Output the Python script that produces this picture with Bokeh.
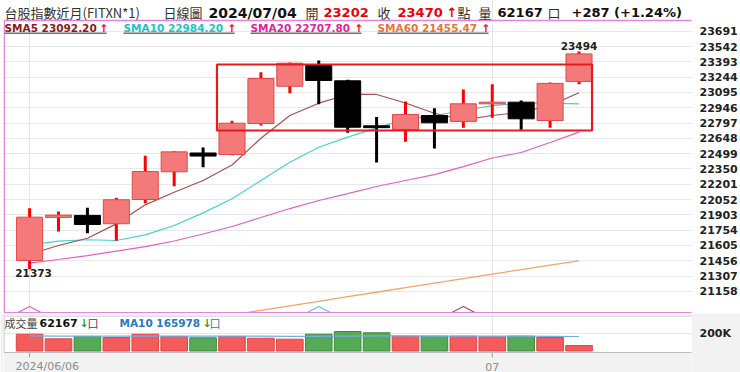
from bokeh.plotting import figure
from bokeh.layouts import column
from bokeh.models import (Range1d, FixedTicker, Label, BoxAnnotation, ColumnDataSource)
from bokeh.core.properties import value
from bokeh.embed import file_html
from bokeh.resources import INLINE

# ---------------- data ----------------
dates = ["2024/06/06", "06/07", "06/11", "06/12", "06/13", "06/14", "06/17", "06/18",
         "06/19", "06/20", "06/21", "06/24", "06/25", "06/26", "06/27", "06/28",
         "07/01", "07/02", "07/03", "07/04"]
opens = [21458, 21878, 21897, 21816, 22052, 22322, 22505, 22490, 22792, 23155,
         23357, 23208, 22770, 22734, 22870, 22812, 22984, 23000, 22821, 23202]
closes = [21880, 21900, 21809, 22050, 22325, 22516, 22475, 22795, 23230, 23379,
          23211, 22756, 22752, 22880, 22799, 22984, 23000, 22838, 23183, 23470]
highs = [21967, 21935, 21971, 22069, 22478, 22525, 22558, 22818, 23292, 23386,
         23406, 23218, 22855, 23006, 22941, 23123, 23175, 23016, 23191, 23494]
lows = [21373, 21740, 21724, 21650, 22016, 22181, 22366, 22483, 22773, 23087,
        22980, 22701, 22412, 22614, 22549, 22750, 22848, 22731, 22750, 23175]
sma5 = [21519, 21604, 21675, 21815, 22000, 22123, 22237, 22388, 22649, 22870,
        22990, 23075, 23075, 22992, 22892, 22828, 22870, 22902, 22967, 23092]
sma10 = [21611, 21646, 21660, 21653, 21708, 21799, 21922, 22059, 22237, 22415,
         22561, 22659, 22750, 22833, 22870, 22919, 22967, 22990, 22990, 22984]
sma20 = [21432, 21468, 21506, 21550, 21594, 21648, 21716, 21789, 21877, 21964,
         22042, 22110, 22179, 22237, 22295, 22373, 22456, 22510, 22607, 22708]
sma60 = [20610, 20650, 20690, 20735, 20780, 20830, 20880, 20929, 20973, 21017,
         21061, 21106, 21149, 21193, 21238, 21282, 21325, 21370, 21414, 21455]
volumes = [192000, 139000, 166000, 154000, 192000, 166000, 151000, 166000, 146000, 135000,
           192000, 223000, 208000, 169000, 169000, 169000, 162000, 169000, 154000, 62167]
vol_ma10 = [172000, 171000, 170000, 170000, 171000, 171000, 170000, 170000, 169000, 168000,
            168000, 171000, 173000, 172000, 171000, 171000, 170000, 169000, 168000, 165978]
price_ticks = [23691, 23542, 23393, 23244, 23095, 22946, 22797, 22648, 22499, 22350,
               22201, 22052, 21903, 21754, 21605, 21456, 21307, 21158]
vol_ticks = [200000]
vol_tick_labels = {200000: "200K"}
date_ticks = [0, 16]
date_tick_labels = ["2024/06/06", "07"]
box_range = dict(left=6.48, right=19.45, top=23367, bottom=22724)

idx = list(range(len(dates)))

# ---------------- styles ----------------
UP_FILL, UP_LINE, UP_WICK = "#F47A7A", "#E04848", "#FF0000"
DN = "#000000"
C5, C10, C20, C60 = "#A0524F", "#48D1CC", "#E060C0", "#F4A46A"
T5, T10, T20, T60 = "#8B1A1A", "#22C3C3", "#E0249B", "#E8743B"
RED = "#E8000B"
NUM = "DejaVu Sans"
CJK = "Noto Sans CJK TC"
PAGE_BG = "#F2F2F2"

W = 740
FL = 3            # frame left (px)
BR = 43           # right border holding the price axis
MAIN_H = 313      # main canvas: header strip (0-20) + price panel (20-313)
PANEL_TOP = 20
VOL_H = 372 - MAIN_H
VOL_TOP_GAP = 2
VOL_PANEL_H = 37  # volume panel inside the volume frame; below it the date row

# ---------------- main (price) figure ----------------
main = figure(width=W, height=MAIN_H, x_range=Range1d(-0.902, 22.89),
              y_range=Range1d(20942, 23990), output_backend="svg",
              toolbar_location=None, title=None, x_axis_location=None,
              y_axis_location="right", min_border_left=FL, min_border_right=BR,
              min_border_top=0, min_border_bottom=0,
              background_fill_color="white", border_fill_color="white",
              outline_line_color=None)
FRAME_H = MAIN_H
PANEL_BOTTOM_VALUE = 20942
PANEL_TOP_VALUE = 23795

main.yaxis.ticker = FixedTicker(ticks=price_ticks)
main.yaxis.axis_line_color = None
main.yaxis.major_tick_line_color = None
main.yaxis.minor_tick_line_color = None
main.yaxis.major_label_standoff = 2
main.yaxis.major_label_text_font = NUM
main.yaxis.major_label_text_font_style = "bold"
main.yaxis.major_label_text_font_size = "11px"
main.yaxis.major_label_text_color = "#222222"
main.ygrid.grid_line_color = "#E8E8E8"
main.xgrid.ticker = FixedTicker(ticks=date_ticks)
main.xgrid.grid_line_color = "#E6E6E6"
main.xgrid.bounds = (PANEL_BOTTOM_VALUE, PANEL_TOP_VALUE)

up = [c >= o for o, c in zip(opens, closes)]
src = ColumnDataSource(dict(
    x=idx, o=opens, c=closes, h=highs, l=lows,
    wick=[UP_WICK if u else DN for u in up],
    fill=[UP_FILL if u else DN for u in up],
    line=[UP_LINE if u else DN for u in up],
))

# moving averages
main.line(idx, sma60, line_color=C60, line_width=1.3)
main.line(idx, sma20, line_color=C20, line_width=1.2)
main.line(idx, sma10, line_color=C10, line_width=1.2)
main.line(idx, sma5, line_color=C5, line_width=1.2)

# candles
main.segment(x0="x", y0="h", x1="x", y1="l", line_color="wick", line_width=3, source=src)
main.vbar(x="x", width=0.9, top="o", bottom="c", fill_color="fill", line_color="line",
          line_width=1, source=src)

# drop-off markers of the moving averages (20, 10, 5 bars back)
ybot = PANEL_BOTTOM_VALUE + 10
ytop = ybot + 58
n = len(idx)
for back, col in [(20, C20), (10, C10), (5, C5)]:
    i = idx[n - back]
    main.line([i - 0.4, i, i + 0.4], [ybot, ytop, ybot], line_color=col, line_width=1.2)

# highlight box
main.add_layout(BoxAnnotation(fill_alpha=0, line_color="#E51B23", line_alpha=1,
                              line_width=2.2, **box_range))

# price panel border (pink)
main.add_layout(BoxAnnotation(left=0.75, right=694 - 0.75, bottom=0.75,
                              top=FRAME_H - PANEL_TOP,
                              left_units="screen", right_units="screen",
                              top_units="screen", bottom_units="screen",
                              fill_alpha=0, line_color="#E383E3", line_alpha=1,
                              line_width=1.5))

# max / min labels
hi_i = max(idx, key=lambda i: highs[i])
lo_i = min(idx, key=lambda i: lows[i])
main.text(x=[hi_i], y=[highs[hi_i]], text=[str(highs[hi_i])], text_align="center",
          text_baseline="bottom", y_offset=-1, text_font=value(NUM), text_font_style="bold",
          text_font_size="10.5px", text_color="#222222")
main.text(x=[lo_i], y=[lows[lo_i]], text=[str(lows[lo_i])], text_align="center",
          text_baseline="top", x_offset=4, y_offset=0, text_font=value(NUM),
          text_font_style="bold", text_font_size="10.5px", text_color="#222222")


def lab(fig, text, x, y, color, font, size, bold=False, align="left"):
    fig.add_layout(Label(x=x, y=y, x_units="screen", y_units="screen", text=text,
                         text_color=color, text_font=font, text_font_size=size,
                         text_font_style="bold" if bold else "normal",
                         text_baseline="middle", text_align=align))


# header row: positions relative to the frame's left / bottom edge
HY = FRAME_H - 12
header = [
    ("台股指數近月(FITXN*1)", 4, "#333333", CJK, "13px", False),
    ("日線圖", 163, "#333333", CJK, "13px", False),
    ("2024/07/04", 208, "#111111", NUM, "14px", True),
    ("開", 305, "#333333", CJK, "13px", False),
    ("23202", 323, RED, NUM, "13px", True),
    ("收", 377, "#333333", CJK, "13px", False),
    ("23470", 397, RED, NUM, "13px", True),
    ("↑", 446, RED, NUM, "13px", True),
    ("點", 457, "#333333", CJK, "13px", False),
    ("量", 478, "#333333", CJK, "13px", False),
    ("62167", 497, "#111111", NUM, "13px", True),
    ("口", 547, "#333333", CJK, "13px", False),
    ("+287 (+1.24%)", 571, "#111111", NUM, "13px", True),
]
for t, rx, col, f, s, b in header:
    lab(main, t, rx - FL, HY, col, f, s, b)

# legend row
LY = FRAME_H - 27.5
legend = [
    ("SMA5 23092.20", 4, 99, T5, 106),
    ("SMA10 22984.20", 123, 227, T10, 234),
    ("SMA20 22707.80", 250, 354, T20, 361),
    ("SMA60 21455.47", 377, 481, T60, 488),
]
for t, rx, ax, col, ux in legend:
    lab(main, t, rx - FL, LY, col, NUM, "10.5px", True)
    lab(main, "↑", ax - FL, LY, "#FF0000", NUM, "10.5px", True)
    main.add_layout(BoxAnnotation(left=rx - FL, right=ux - FL,
                                  bottom=FRAME_H - 33.5, top=FRAME_H - 32,
                                  left_units="screen", right_units="screen",
                                  top_units="screen", bottom_units="screen",
                                  fill_color="#707070", fill_alpha=1, line_color=None))

# ---------------- volume figure ----------------
# frame: 57 px = 37 px panel + 20 px date row; zero volume 1.5 px above panel bottom
VPX = 17.5 / 200000          # px per contract
vol_frame_h = VOL_H - VOL_TOP_GAP
zero_from_bottom = (vol_frame_h - VOL_PANEL_H) + 1.5
vol_start = -zero_from_bottom / VPX
vol_end = (vol_frame_h - zero_from_bottom) / VPX
panel_bottom_val = -1.5 / VPX

vol = figure(width=W, height=VOL_H, x_range=main.x_range,
             y_range=Range1d(vol_start, vol_end),
             output_backend="svg", toolbar_location=None, title=None,
             x_axis_location=None, y_axis_location="right",
             min_border_left=FL, min_border_right=BR,
             min_border_top=VOL_TOP_GAP, min_border_bottom=0,
             background_fill_color="white", border_fill_color=PAGE_BG,
             outline_line_color=None)

# date row background below the panel
vol.add_layout(BoxAnnotation(left=0, right=694, bottom=0, top=vol_frame_h - VOL_PANEL_H,
                             left_units="screen", right_units="screen",
                             top_units="screen", bottom_units="screen",
                             fill_color=PAGE_BG, fill_alpha=1, line_color=None,
                             level="underlay"))

vsrc = ColumnDataSource(dict(
    x=idx, v=volumes,
    fill=["#F45B5B" if u else "#55AA55" for u in up],
    line=["#E04444" if u else "#3D8B3D" for u in up],
))
vol.vbar(x="x", width=0.92, top="v", bottom=0, fill_color="fill", line_color="line", source=vsrc)
vol.line(idx, vol_ma10, line_color="#72AEE0", line_width=1.2)

vol.yaxis.ticker = FixedTicker(ticks=vol_ticks)
vol.yaxis.major_label_overrides = vol_tick_labels
vol.yaxis.axis_line_color = None
vol.yaxis.major_tick_line_color = None
vol.yaxis.minor_tick_line_color = None
vol.yaxis.major_label_standoff = 2
vol.yaxis.major_label_text_font = NUM
vol.yaxis.major_label_text_font_style = "bold"
vol.yaxis.major_label_text_font_size = "11px"
vol.yaxis.major_label_text_color = "#222222"
vol.ygrid.grid_line_color = "#E6E6E6"
vol.xgrid.ticker = FixedTicker(ticks=date_ticks)
vol.xgrid.grid_line_color = "#E6E6E6"
vol.xgrid.bounds = (panel_bottom_val, vol_end)

# volume panel border (gray)
vol.add_layout(BoxAnnotation(left=0.5, right=694 - 0.5,
                             bottom=vol_frame_h - VOL_PANEL_H, top=vol_frame_h - 0.5,
                             left_units="screen", right_units="screen",
                             top_units="screen", bottom_units="screen",
                             fill_alpha=0, line_color="#BDBDBD", line_alpha=1,
                             line_width=1))

# date ticks (5 px below the panel) and labels
tick_top = panel_bottom_val
tick_bot = panel_bottom_val - 5 / VPX
vol.segment(x0=date_ticks, x1=date_ticks, y0=[tick_top] * len(date_ticks),
            y1=[tick_bot] * len(date_ticks), line_color="#999999", line_width=1)
DATE_Y = 6
vol.add_layout(Label(x=date_ticks[0], y=DATE_Y, x_units="data", y_units="screen",
                     text=date_tick_labels[0], x_offset=-14, text_align="left",
                     text_baseline="middle", text_font=NUM, text_font_size="11px",
                     text_color="#8C8C8C"))
vol.add_layout(Label(x=date_ticks[1], y=DATE_Y, x_units="data", y_units="screen",
                     text=date_tick_labels[1], text_align="center",
                     text_baseline="middle", text_font=NUM, text_font_size="11px",
                     text_color="#8C8C8C"))

# volume legend
VY = vol_frame_h - 7.5
vleg = [
    ("成交量", 4, "#444444", CJK, "11px", False),
    (f"{volumes[-1]}", 39, "#111111", NUM, "11px", True),
    ("↓", 79, "#2E9E2E", NUM, "11px", True),
    ("口", 87, "#444444", CJK, "11px", False),
    (f"MA10 {vol_ma10[-1]}", 119, "#2A78C0", NUM, "10.5px", True),
    ("↓", 202, "#2E9E2E", NUM, "11px", True),
    ("口", 209, "#2A78C0", CJK, "11px", False),
]
for t, rx, col, f, s, b in vleg:
    lab(vol, t, rx - FL, VY, col, f, s, b)

layout = column(main, vol, spacing=0)
open("out.html", "w").write(file_html(layout, INLINE))
